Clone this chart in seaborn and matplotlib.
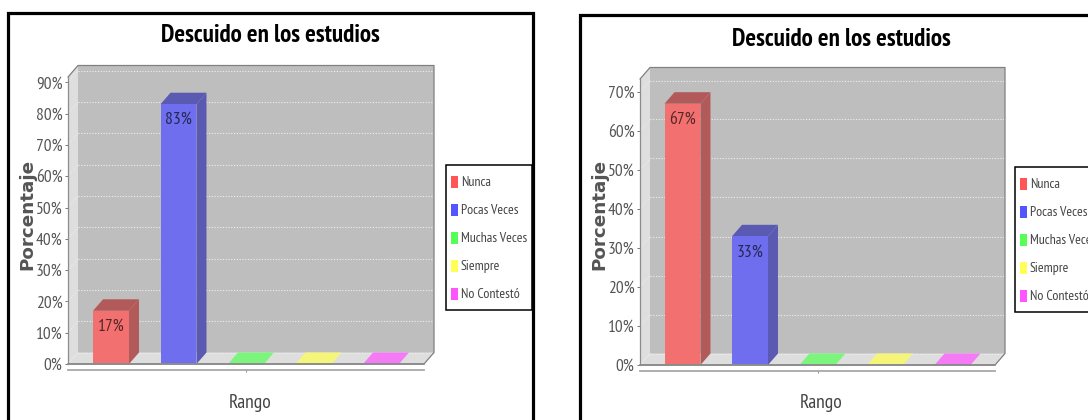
import matplotlib
matplotlib.use("Agg")
import logging
import matplotlib.pyplot as plt
from matplotlib.legend_handler import HandlerPatch
from matplotlib.patches import Polygon, Rectangle
import pandas as pd
import seaborn as sns

logging.getLogger("matplotlib.font_manager").setLevel(logging.ERROR)

categories = ["Nunca", "Pocas Veces", "Muchas Veces", "Siempre", "No Contestó"]
values_left = [17, 83, 0, 0, 0]
values_right = [67, 33, 0, 0, 0]
ticks_left = [0, 10, 20, 30, 40, 50, 60, 70, 80, 90]
ticks_right = [0, 10, 20, 30, 40, 50, 60, 70]

legend_colors = ["#FF5555", "#5555FF", "#55FF55", "#FFFF55", "#FF55FF"]
face_colors = ["#F27070", "#6E6EEE", "#7CF57C", "#F5F57A", "#F57AF5"]
side_colors = ["#B25A5A", "#5A5AB2", "#5AB25A", "#B2B25A", "#B25AB2"]

W, H = 1088, 420
TITLE = "Descuido en los estudios"
NARROW = ["PT Sans Narrow", "Liberation Sans", "DejaVu Sans"]
DX, DY = 10, 11.5  # 3d depth in pixels

sns.set_theme(style="white")
plt.rcParams["font.family"] = NARROW

fig = plt.figure(figsize=(W / 100, H / 100), dpi=100, facecolor="white")


def px_box(x0, y0, x1, y1):
    return [x0 / W, 1 - y1 / H, (x1 - x0) / W, (y1 - y0) / H]


def small_key(legend, orig_handle, xdescent, ydescent, width, height, fontsize):
    # legend key is shorter than the row it sits in
    key_h = 8.6
    return Rectangle((-xdescent, -ydescent + (height - key_h) / 2), width, key_h)


def draw_chart(values, ticks, frame, axes_px, ymax, title_xy, label_x, legend_xy):
    # black outer frame runs off the picture
    fig.add_artist(Rectangle((frame[0] / W, -0.2), (frame[1] - frame[0]) / W, 1.2 - frame[2] / H,
                             transform=fig.transFigure, fill=False, ec="black", lw=2.3))
    x0, y0, x1, y1 = axes_px
    ax = fig.add_axes(px_box(x0, y0, x1, y1))
    ax.patch.set_visible(False)

    df = pd.DataFrame({"rango": ["Rango"] * len(categories), "rango_tipo": categories, "valor": values})
    sns.barplot(data=df, x="rango", y="valor", hue="rango_tipo", hue_order=categories,
                palette=face_colors, saturation=1, width=(337.5 / (x1 - x0)), gap=0.467,
                legend=False, ax=ax, zorder=4)
    ax.set_xlim(-0.5, 0.5)
    ax.set_ylim(0, ymax)

    dx = DX / (x1 - x0)
    dy = DY / (y1 - y0) * ymax
    left, right = -0.5, 0.5

    # walls and floor
    ax.add_patch(Rectangle((left + dx, dy), 1, ymax, fc="#BEBEBE", ec="none", clip_on=False, zorder=0))
    ax.add_patch(Polygon([(left, 0), (left + dx, dy), (left + dx, ymax + dy), (left, ymax)],
                         fc="#DEDEDE", ec="none", clip_on=False, zorder=0.5))
    ax.add_patch(Polygon([(left, 0), (right, 0), (right + dx, dy), (left + dx, dy)],
                         fc="#DEDEDE", ec="none", clip_on=False, zorder=0.5))
    ax.plot([left, left + dx, right + dx, right + dx, right],
            [ymax, ymax + dy, ymax + dy, dy, 0], color="#808080", lw=0.9, clip_on=False, zorder=2)

    # dotted grid on the back wall and the side wall
    for t in ticks:
        ax.plot([left + dx, right + dx], [t + dy, t + dy], color="#F0F0F0", lw=0.8, ls=(0, (1, 1.5)),
                clip_on=False, zorder=1)
        ax.plot([left, left + dx], [t, t + dy], color="#F0F0F0", lw=0.7, ls=(0, (1, 1.5)),
                clip_on=False, zorder=1)

    # 3d sides and tops from the bars seaborn made
    for i, cont in enumerate(ax.containers):
        bar = cont[0]
        b0 = bar.get_x()
        b1 = b0 + bar.get_width()
        h = bar.get_height()
        bar.set_edgecolor("none")
        ax.add_patch(Polygon([(b0, h), (b1, h), (b1 + dx, h + dy), (b0 + dx, h + dy)],
                             fc=side_colors[i] if h > 0 else face_colors[i], ec="none",
                             clip_on=False, zorder=3))
        if h > 0:
            ax.add_patch(Polygon([(b1, 0), (b1 + dx, dy), (b1 + dx, h + dy), (b1, h)],
                                 fc=side_colors[i], ec="none", clip_on=False, zorder=3))
            ax.annotate(f"{h:.0f}%", ((b0 + b1) / 2, h), xytext=(0, -11.5), textcoords="offset points",
                        ha="center", va="center", fontsize=12.5, color="black", alpha=0.65, zorder=6)

    ax.axhline(0, color="#8C8C8C", lw=1.4, zorder=5, clip_on=False)
    for s in ["top", "right"]:
        ax.spines[s].set_visible(False)
    ax.spines["left"].set_color("#8C8C8C")
    ax.spines["left"].set_linewidth(0.9)
    ax.spines["bottom"].set_position(("outward", 4.5))
    ax.spines["bottom"].set_color("#A8A8A8")
    ax.spines["bottom"].set_linewidth(1.3)

    ax.set_yticks(ticks)
    ax.set_yticklabels([f"{t}%" for t in ticks], fontsize=12.5, color="#555555")
    ax.tick_params(axis="y", length=2.5, width=0.7, color="#777777", pad=1.5, left=True)
    ax.set_xticks([0])
    ax.set_xticklabels([""])
    ax.tick_params(axis="x", length=1.5, width=0.6, color="#777777", bottom=True)
    ax.set_xlabel("")
    ax.set_ylabel("")

    fig.text(title_xy[0] / W, 1 - title_xy[1] / H, TITLE, ha="center", va="center",
             fontsize=18, fontweight="bold", color="black")
    fig.text(label_x / W, 1 - 403 / H, "Rango", ha="center", va="center", fontsize=14, color="#444444")
    fig.text((x0 - 41) / W, 1 - 214 / H, "Porcentaje", rotation=90, ha="center", va="center",
             fontsize=13.2, fontweight="bold", color="#555555", family="DejaVu Sans")

    handles = [Rectangle((0, 0), 1, 1, fc=c, ec="none") for c in legend_colors]
    leg = ax.legend(handles, categories, loc="upper left",
                    bbox_to_anchor=(legend_xy[0] / W, 1 - legend_xy[1] / H), bbox_transform=fig.transFigure,
                    handler_map={Rectangle: HandlerPatch(patch_func=small_key)},
                    frameon=True, fancybox=False, framealpha=1, edgecolor="black", fontsize=10,
                    labelcolor="#444444", handlelength=0.5, handleheight=2.24, handletextpad=0.22,
                    labelspacing=0.316, borderpad=0.34, borderaxespad=0)
    leg.get_frame().set_linewidth(1.1)
    leg.set_zorder(10)


draw_chart(values_left, ticks_left, (7.5, 532.5, 12.5), (68, 77, 424, 364), 287 / 3.13,
           (270, 36), 250, (446, 165))
draw_chart(values_right, ticks_right, (579.5, 1180, 14.5), (640, 79, 995, 365), 286 / 3.9,
           (841, 39), 821, (1015, 167))

plt.savefig("out.png", dpi=100)
plt.close()
